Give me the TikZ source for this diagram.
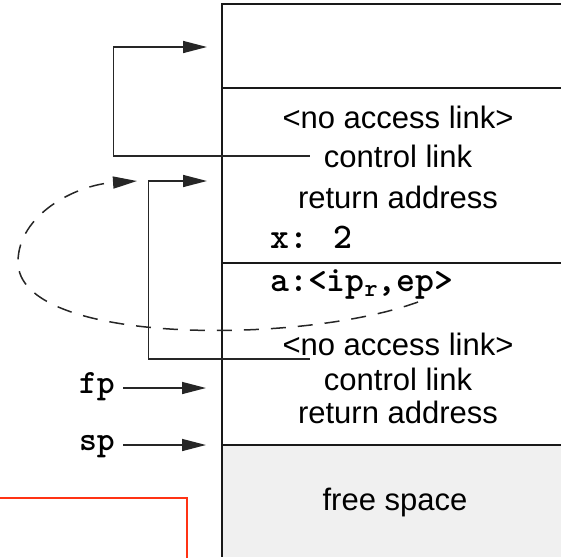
\documentclass[tikz,border=0pt]{standalone}
\usepackage{fontspec}
\setmainfont{Liberation Sans}
\usetikzlibrary{
    arrows.meta,
    positioning,
    calc
}

\begin{document}
\begin{tikzpicture}[
            x=1pt, y=-1pt,
            slot_text/.style={font=\fontsize{31}{36}\selectfont, inner sep=0pt, anchor=base},
            var_text/.style={font=\fontsize{36}{40}\selectfont\ttfamily\bfseries, inner sep=0pt, anchor=base west},
            reg_text/.style={font=\fontsize{34}{40}\selectfont\ttfamily\bfseries, inner sep=0pt, anchor=base east},
            frame_line/.style={line width=1.7pt, black!90},
            free_fill/.style={fill=black!6},
            link_arrow/.style={-{Triangle[length=24pt,width=12pt]}, line width=1.5pt, black!85},
            closure_arrow/.style={link_arrow, dash pattern=on 15pt off 12pt},
            red_border/.style={line width=1.4pt, draw={rgb,255:red,255;green,50;blue,20}}
        ]
    
        \useasboundingbox (0,0) rectangle (561,557);
    
        % stack frames
        \fill[free_fill] (222,445) rectangle (561,557);
        \draw[frame_line] (561,4) -- (222,4) -- (222,557);
        \foreach \rowy in {88,263,445}
            \draw[frame_line] (222,\rowy) -- (561,\rowy);
    
        \draw[red_border] (0,498) -| (187,560);
    
        % slot texts
        \node[slot_text] (noacc1) at (398,128) {<no access link>};
        \node[slot_text] (ctrl1) at (398,167) {control link};
        \node[slot_text] (ret1) at (398,208) {return address};
        \node[var_text] (varx) at (270,248) {x: 2};
        \node[var_text] (vara) at (270,291) {a:<ip\raisebox{-0.35ex}{\fontsize{25}{28}\selectfont r},ep>};
    
        \node[slot_text] (noacc2) at (398,355) {<no access link>};
        \node[slot_text] (ctrl2) at (398,390) {control link};
        \node[slot_text] (ret2) at (398,423) {return address};
        \node[slot_text] (free) at (395,510) {free space};
    
        \node[reg_text] (fp) at (115,393) {fp};
        \node[reg_text] (sp) at (115,450) {sp};
    
        \coordinate (slot_top) at (207,47);
        \coordinate (slot_ret) at (207,181);
        \coordinate (fp_tgt) at (206,388);
        \coordinate (sp_tgt) at (206,445);
        \coordinate (ep_src) at (418,302);
        \coordinate (closure_tgt) at (137,181);
    
        \draw[link_arrow] ($(ctrl1.west)+(-14,0)$) -- ++(-196,0) |- (slot_top);
        \draw[link_arrow] ($(ctrl2.west)+(-14,-20)$) -- ++(-161,0) |- (slot_ret);
    
        \draw[link_arrow] ([xshift=8pt]fp.east |- fp_tgt) -- (fp_tgt);
        \draw[link_arrow] ([xshift=8pt]sp.east |- sp_tgt) -- (sp_tgt);
    
        \draw[closure_arrow] (ep_src)
          .. controls (300,345) and (18,345) .. (18,262)
          .. controls (18,215) and (75,185) .. (closure_tgt);
    
    
        \end{tikzpicture}
\end{document}
